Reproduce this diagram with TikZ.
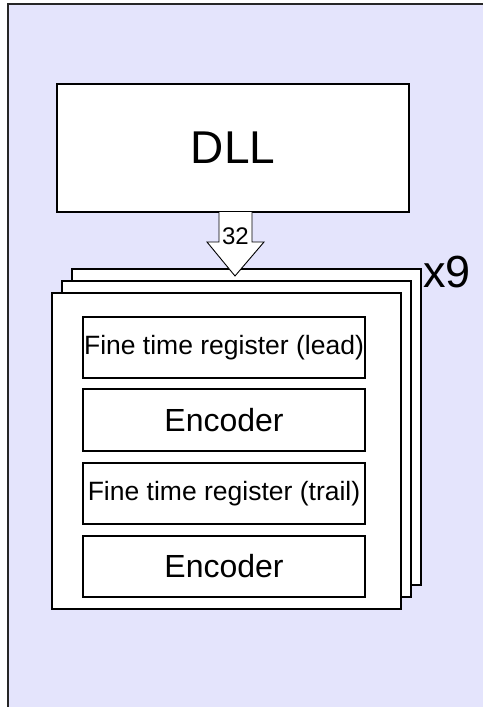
\documentclass[tikz,border=0pt]{standalone}
\usepackage{fontspec}
\setmainfont{Liberation Sans}
\usetikzlibrary{calc}
\definecolor{bglav}{RGB}{228,228,252}
\begin{document}
\begin{tikzpicture}[x=1pt,y=-1pt,
  blk/.style={draw=black,fill=white,line width=1.2pt,inner sep=0pt,outer sep=0pt},
  inbox/.style={blk,minimum width=282pt,minimum height=61pt},
  stackbox/.style={blk,minimum width=349pt,minimum height=316pt},
  finetxt/.style={font=\fontsize{26.5}{30}\selectfont},
  enctxt/.style={font=\fontsize{32}{36}\selectfont}]
\useasboundingbox (0,0) rectangle (483,707);
% background panel (extends past the right and bottom edges)
\fill[bglav] (8,4) rectangle (483,707);
\draw[draw=black!85,line width=1.5pt] (8,707) -- (8,4) -- (483,4);
% DLL
\node[blk,minimum width=352pt,minimum height=128pt,font=\fontsize{46}{52}\selectfont] (dll) at (233,148) {DLL};
% stacked boxes
\node[stackbox] (back) at (246.5,427) {};
\node[stackbox] (mid) at (236.5,439) {};
\node[stackbox] (front) at (226.5,451) {};
% block arrow
\draw[fill=white,draw=black,line width=0.9pt,line join=miter]
  ($(dll.south)+(-14,0)$) -- ++(0,30) -- ++(-12,0) -- (235,276) -- ($(dll.south)+(31,30)$) -- ++(-12,0) -- ($(dll.south)+(19,0)$);
\node[font=\fontsize{24}{28}\selectfont,inner sep=0pt] (n32) at (235.5,236) {32};
\node[anchor=base west,inner sep=0pt,font=\fontsize{45}{50}\selectfont] (x9) at (423,287) {x9};
% inner boxes
\node[inbox,finetxt] (lead) at (224,347.5) {Fine time register (lead)};
\node[inbox,enctxt,minimum height=62pt] (enc1) at (224,420) {Encoder};
\node[inbox,finetxt] (trail) at (224,493.5) {Fine time register (trail)};
\node[inbox,enctxt] (enc2) at (224,566.5) {Encoder};
\end{tikzpicture}
\end{document}
